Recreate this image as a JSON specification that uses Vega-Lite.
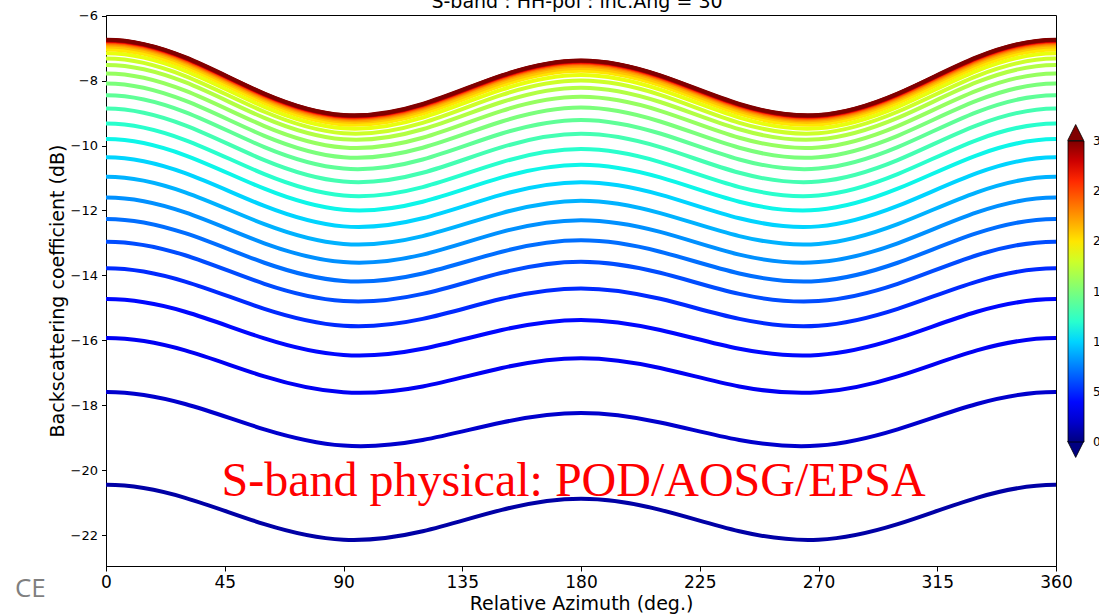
{
  "$schema": "https://vega.github.io/schema/vega-lite/v6.json",
  "width": 950,
  "height": 551,
  "autosize": {"type": "none"},
  "padding": {"left": 106, "top": 15, "right": 43, "bottom": 49},
  "background": "white",
  "title": {"text": "S-band : HH-pol : inc.Ang = 30", "fontSize": 19, "font": "DejaVu Sans", "fontWeight": "normal", "color": "black", "anchor": "middle", "frame": "group", "offset": 0, "dy": 17.5, "dx": -4, "baseline": "alphabetic"},
  "config": {
    "view": {"stroke": "black", "strokeWidth": 1},
    "axis": {"grid": false, "domainColor": "black", "tickColor": "black", "labelColor": "black", "titleColor": "black", "labelFont": "DejaVu Sans", "titleFont": "DejaVu Sans", "titleFontWeight": "normal", "labelFlush": false, "labelOverlap": false, "tickWidth": 1},
    "axisX": {"labelFontSize": 17, "titleFontSize": 19, "tickSize": 5, "labelPadding": 3, "titlePadding": 4},
    "axisY": {"labelFontSize": 13, "titleFontSize": 19, "tickSize": 4.5, "labelPadding": 4, "titlePadding": 3}
  },
  "layer": [
    {
      "data": {"values": [
        {"u":1,"az":-60,"db":-21.66},{"u":1,"az":-30,"db":-20.85},{"u":1,"az":0,"db":-20.45},{"u":1,"az":30,"db":-20.85},{"u":1,"az":60,"db":-21.66},{"u":1,"az":90,"db":-22.14},{"u":1,"az":120,"db":-21.88},{"u":1,"az":150,"db":-21.22},{"u":1,"az":180,"db":-20.88},{"u":1,"az":210,"db":-21.22},{"u":1,"az":240,"db":-21.88},{"u":1,"az":270,"db":-22.14},{"u":1,"az":300,"db":-21.66},{"u":1,"az":330,"db":-20.85},{"u":1,"az":360,"db":-20.45},{"u":1,"az":390,"db":-20.85},{"u":1,"az":420,"db":-21.66},
        {"u":2,"az":-60,"db":-18.74},{"u":2,"az":-30,"db":-17.96},{"u":2,"az":0,"db":-17.59},{"u":2,"az":30,"db":-17.96},{"u":2,"az":60,"db":-18.74},{"u":2,"az":90,"db":-19.24},{"u":2,"az":120,"db":-19.07},{"u":2,"az":150,"db":-18.53},{"u":2,"az":180,"db":-18.24},{"u":2,"az":210,"db":-18.53},{"u":2,"az":240,"db":-19.07},{"u":2,"az":270,"db":-19.24},{"u":2,"az":300,"db":-18.74},{"u":2,"az":330,"db":-17.96},{"u":2,"az":360,"db":-17.59},{"u":2,"az":390,"db":-17.96},{"u":2,"az":420,"db":-18.74},
        {"u":3,"az":-60,"db":-17.11},{"u":3,"az":-30,"db":-16.31},{"u":3,"az":0,"db":-15.93},{"u":3,"az":30,"db":-16.31},{"u":3,"az":60,"db":-17.11},{"u":3,"az":90,"db":-17.60},{"u":3,"az":120,"db":-17.42},{"u":3,"az":150,"db":-16.85},{"u":3,"az":180,"db":-16.55},{"u":3,"az":210,"db":-16.85},{"u":3,"az":240,"db":-17.42},{"u":3,"az":270,"db":-17.60},{"u":3,"az":300,"db":-17.11},{"u":3,"az":330,"db":-16.31},{"u":3,"az":360,"db":-15.93},{"u":3,"az":390,"db":-16.31},{"u":3,"az":420,"db":-17.11},
        {"u":4,"az":-60,"db":-15.94},{"u":4,"az":-30,"db":-15.12},{"u":4,"az":0,"db":-14.73},{"u":4,"az":30,"db":-15.12},{"u":4,"az":60,"db":-15.94},{"u":4,"az":90,"db":-16.45},{"u":4,"az":120,"db":-16.26},{"u":4,"az":150,"db":-15.68},{"u":4,"az":180,"db":-15.37},{"u":4,"az":210,"db":-15.68},{"u":4,"az":240,"db":-16.26},{"u":4,"az":270,"db":-16.45},{"u":4,"az":300,"db":-15.94},{"u":4,"az":330,"db":-15.12},{"u":4,"az":360,"db":-14.73},{"u":4,"az":390,"db":-15.12},{"u":4,"az":420,"db":-15.94},
        {"u":5,"az":-60,"db":-15.03},{"u":5,"az":-30,"db":-14.19},{"u":5,"az":0,"db":-13.78},{"u":5,"az":30,"db":-14.19},{"u":5,"az":60,"db":-15.03},{"u":5,"az":90,"db":-15.55},{"u":5,"az":120,"db":-15.34},{"u":5,"az":150,"db":-14.72},{"u":5,"az":180,"db":-14.40},{"u":5,"az":210,"db":-14.72},{"u":5,"az":240,"db":-15.34},{"u":5,"az":270,"db":-15.55},{"u":5,"az":300,"db":-15.03},{"u":5,"az":330,"db":-14.19},{"u":5,"az":360,"db":-13.78},{"u":5,"az":390,"db":-14.19},{"u":5,"az":420,"db":-15.03},
        {"u":6,"az":-60,"db":-14.26},{"u":6,"az":-30,"db":-13.38},{"u":6,"az":0,"db":-12.96},{"u":6,"az":30,"db":-13.38},{"u":6,"az":60,"db":-14.26},{"u":6,"az":90,"db":-14.79},{"u":6,"az":120,"db":-14.57},{"u":6,"az":150,"db":-13.92},{"u":6,"az":180,"db":-13.58},{"u":6,"az":210,"db":-13.92},{"u":6,"az":240,"db":-14.57},{"u":6,"az":270,"db":-14.79},{"u":6,"az":300,"db":-14.26},{"u":6,"az":330,"db":-13.38},{"u":6,"az":360,"db":-12.96},{"u":6,"az":390,"db":-13.38},{"u":6,"az":420,"db":-14.26},
        {"u":7,"az":-60,"db":-13.61},{"u":7,"az":-30,"db":-12.70},{"u":7,"az":0,"db":-12.26},{"u":7,"az":30,"db":-12.70},{"u":7,"az":60,"db":-13.61},{"u":7,"az":90,"db":-14.17},{"u":7,"az":120,"db":-13.94},{"u":7,"az":150,"db":-13.27},{"u":7,"az":180,"db":-12.92},{"u":7,"az":210,"db":-13.27},{"u":7,"az":240,"db":-13.94},{"u":7,"az":270,"db":-14.17},{"u":7,"az":300,"db":-13.61},{"u":7,"az":330,"db":-12.70},{"u":7,"az":360,"db":-12.26},{"u":7,"az":390,"db":-12.70},{"u":7,"az":420,"db":-13.61},
        {"u":8,"az":-60,"db":-13.01},{"u":8,"az":-30,"db":-12.06},{"u":8,"az":0,"db":-11.60},{"u":8,"az":30,"db":-12.06},{"u":8,"az":60,"db":-13.01},{"u":8,"az":90,"db":-13.59},{"u":8,"az":120,"db":-13.36},{"u":8,"az":150,"db":-12.66},{"u":8,"az":180,"db":-12.30},{"u":8,"az":210,"db":-12.66},{"u":8,"az":240,"db":-13.36},{"u":8,"az":270,"db":-13.59},{"u":8,"az":300,"db":-13.01},{"u":8,"az":330,"db":-12.06},{"u":8,"az":360,"db":-11.60},{"u":8,"az":390,"db":-12.06},{"u":8,"az":420,"db":-13.01},
        {"u":9,"az":-60,"db":-12.42},{"u":9,"az":-30,"db":-11.44},{"u":9,"az":0,"db":-10.96},{"u":9,"az":30,"db":-11.44},{"u":9,"az":60,"db":-12.42},{"u":9,"az":90,"db":-13.03},{"u":9,"az":120,"db":-12.79},{"u":9,"az":150,"db":-12.08},{"u":9,"az":180,"db":-11.70},{"u":9,"az":210,"db":-12.08},{"u":9,"az":240,"db":-12.79},{"u":9,"az":270,"db":-13.03},{"u":9,"az":300,"db":-12.42},{"u":9,"az":330,"db":-11.44},{"u":9,"az":360,"db":-10.96},{"u":9,"az":390,"db":-11.44},{"u":9,"az":420,"db":-12.42},
        {"u":10,"az":-60,"db":-11.86},{"u":10,"az":-30,"db":-10.85},{"u":10,"az":0,"db":-10.36},{"u":10,"az":30,"db":-10.85},{"u":10,"az":60,"db":-11.86},{"u":10,"az":90,"db":-12.49},{"u":10,"az":120,"db":-12.24},{"u":10,"az":150,"db":-11.51},{"u":10,"az":180,"db":-11.13},{"u":10,"az":210,"db":-11.51},{"u":10,"az":240,"db":-12.24},{"u":10,"az":270,"db":-12.49},{"u":10,"az":300,"db":-11.86},{"u":10,"az":330,"db":-10.85},{"u":10,"az":360,"db":-10.36},{"u":10,"az":390,"db":-10.85},{"u":10,"az":420,"db":-11.86},
        {"u":11,"az":-60,"db":-11.33},{"u":11,"az":-30,"db":-10.30},{"u":11,"az":0,"db":-9.80},{"u":11,"az":30,"db":-10.30},{"u":11,"az":60,"db":-11.33},{"u":11,"az":90,"db":-11.98},{"u":11,"az":120,"db":-11.73},{"u":11,"az":150,"db":-10.98},{"u":11,"az":180,"db":-10.59},{"u":11,"az":210,"db":-10.98},{"u":11,"az":240,"db":-11.73},{"u":11,"az":270,"db":-11.98},{"u":11,"az":300,"db":-11.33},{"u":11,"az":330,"db":-10.30},{"u":11,"az":360,"db":-9.80},{"u":11,"az":390,"db":-10.30},{"u":11,"az":420,"db":-11.33},
        {"u":12,"az":-60,"db":-10.88},{"u":12,"az":-30,"db":-9.83},{"u":12,"az":0,"db":-9.32},{"u":12,"az":30,"db":-9.83},{"u":12,"az":60,"db":-10.88},{"u":12,"az":90,"db":-11.54},{"u":12,"az":120,"db":-11.28},{"u":12,"az":150,"db":-10.51},{"u":12,"az":180,"db":-10.11},{"u":12,"az":210,"db":-10.51},{"u":12,"az":240,"db":-11.28},{"u":12,"az":270,"db":-11.54},{"u":12,"az":300,"db":-10.88},{"u":12,"az":330,"db":-9.83},{"u":12,"az":360,"db":-9.32},{"u":12,"az":390,"db":-9.83},{"u":12,"az":420,"db":-10.88},
        {"u":13,"az":-60,"db":-10.45},{"u":13,"az":-30,"db":-9.38},{"u":13,"az":0,"db":-8.86},{"u":13,"az":30,"db":-9.38},{"u":13,"az":60,"db":-10.45},{"u":13,"az":90,"db":-11.11},{"u":13,"az":120,"db":-10.84},{"u":13,"az":150,"db":-10.05},{"u":13,"az":180,"db":-9.64},{"u":13,"az":210,"db":-10.05},{"u":13,"az":240,"db":-10.84},{"u":13,"az":270,"db":-11.11},{"u":13,"az":300,"db":-10.45},{"u":13,"az":330,"db":-9.38},{"u":13,"az":360,"db":-8.86},{"u":13,"az":390,"db":-9.38},{"u":13,"az":420,"db":-10.45},
        {"u":14,"az":-60,"db":-10.05},{"u":14,"az":-30,"db":-8.97},{"u":14,"az":0,"db":-8.45},{"u":14,"az":30,"db":-8.97},{"u":14,"az":60,"db":-10.05},{"u":14,"az":90,"db":-10.71},{"u":14,"az":120,"db":-10.43},{"u":14,"az":150,"db":-9.63},{"u":14,"az":180,"db":-9.21},{"u":14,"az":210,"db":-9.63},{"u":14,"az":240,"db":-10.43},{"u":14,"az":270,"db":-10.71},{"u":14,"az":300,"db":-10.05},{"u":14,"az":330,"db":-8.97},{"u":14,"az":360,"db":-8.45},{"u":14,"az":390,"db":-8.97},{"u":14,"az":420,"db":-10.05},
        {"u":15,"az":-60,"db":-9.70},{"u":15,"az":-30,"db":-8.62},{"u":15,"az":0,"db":-8.09},{"u":15,"az":30,"db":-8.62},{"u":15,"az":60,"db":-9.70},{"u":15,"az":90,"db":-10.36},{"u":15,"az":120,"db":-10.07},{"u":15,"az":150,"db":-9.26},{"u":15,"az":180,"db":-8.83},{"u":15,"az":210,"db":-9.26},{"u":15,"az":240,"db":-10.07},{"u":15,"az":270,"db":-10.36},{"u":15,"az":300,"db":-9.70},{"u":15,"az":330,"db":-8.62},{"u":15,"az":360,"db":-8.09},{"u":15,"az":390,"db":-8.62},{"u":15,"az":420,"db":-9.70},
        {"u":16,"az":-60,"db":-9.40},{"u":16,"az":-30,"db":-8.31},{"u":16,"az":0,"db":-7.78},{"u":16,"az":30,"db":-8.31},{"u":16,"az":60,"db":-9.40},{"u":16,"az":90,"db":-10.06},{"u":16,"az":120,"db":-9.76},{"u":16,"az":150,"db":-8.93},{"u":16,"az":180,"db":-8.50},{"u":16,"az":210,"db":-8.93},{"u":16,"az":240,"db":-9.76},{"u":16,"az":270,"db":-10.06},{"u":16,"az":300,"db":-9.40},{"u":16,"az":330,"db":-8.31},{"u":16,"az":360,"db":-7.78},{"u":16,"az":390,"db":-8.31},{"u":16,"az":420,"db":-9.40},
        {"u":17,"az":-60,"db":-9.15},{"u":17,"az":-30,"db":-8.05},{"u":17,"az":0,"db":-7.52},{"u":17,"az":30,"db":-8.05},{"u":17,"az":60,"db":-9.15},{"u":17,"az":90,"db":-9.81},{"u":17,"az":120,"db":-9.50},{"u":17,"az":150,"db":-8.66},{"u":17,"az":180,"db":-8.22},{"u":17,"az":210,"db":-8.66},{"u":17,"az":240,"db":-9.50},{"u":17,"az":270,"db":-9.81},{"u":17,"az":300,"db":-9.15},{"u":17,"az":330,"db":-8.05},{"u":17,"az":360,"db":-7.52},{"u":17,"az":390,"db":-8.05},{"u":17,"az":420,"db":-9.15},
        {"u":18,"az":-60,"db":-8.96},{"u":18,"az":-30,"db":-7.86},{"u":18,"az":0,"db":-7.32},{"u":18,"az":30,"db":-7.86},{"u":18,"az":60,"db":-8.96},{"u":18,"az":90,"db":-9.62},{"u":18,"az":120,"db":-9.30},{"u":18,"az":150,"db":-8.44},{"u":18,"az":180,"db":-8.00},{"u":18,"az":210,"db":-8.44},{"u":18,"az":240,"db":-9.30},{"u":18,"az":270,"db":-9.62},{"u":18,"az":300,"db":-8.96},{"u":18,"az":330,"db":-7.86},{"u":18,"az":360,"db":-7.32},{"u":18,"az":390,"db":-7.86},{"u":18,"az":420,"db":-8.96},
        {"u":19,"az":-60,"db":-8.81},{"u":19,"az":-30,"db":-7.70},{"u":19,"az":0,"db":-7.16},{"u":19,"az":30,"db":-7.70},{"u":19,"az":60,"db":-8.81},{"u":19,"az":90,"db":-9.47},{"u":19,"az":120,"db":-9.14},{"u":19,"az":150,"db":-8.28},{"u":19,"az":180,"db":-7.83},{"u":19,"az":210,"db":-8.28},{"u":19,"az":240,"db":-9.14},{"u":19,"az":270,"db":-9.47},{"u":19,"az":300,"db":-8.81},{"u":19,"az":330,"db":-7.70},{"u":19,"az":360,"db":-7.16},{"u":19,"az":390,"db":-7.70},{"u":19,"az":420,"db":-8.81},
        {"u":20,"az":-60,"db":-8.69},{"u":20,"az":-30,"db":-7.58},{"u":20,"az":0,"db":-7.04},{"u":20,"az":30,"db":-7.58},{"u":20,"az":60,"db":-8.69},{"u":20,"az":90,"db":-9.35},{"u":20,"az":120,"db":-9.02},{"u":20,"az":150,"db":-8.15},{"u":20,"az":180,"db":-7.70},{"u":20,"az":210,"db":-8.15},{"u":20,"az":240,"db":-9.02},{"u":20,"az":270,"db":-9.35},{"u":20,"az":300,"db":-8.69},{"u":20,"az":330,"db":-7.58},{"u":20,"az":360,"db":-7.04},{"u":20,"az":390,"db":-7.58},{"u":20,"az":420,"db":-8.69},
        {"u":21,"az":-60,"db":-8.60},{"u":21,"az":-30,"db":-7.49},{"u":21,"az":0,"db":-6.95},{"u":21,"az":30,"db":-7.49},{"u":21,"az":60,"db":-8.60},{"u":21,"az":90,"db":-9.26},{"u":21,"az":120,"db":-8.93},{"u":21,"az":150,"db":-8.06},{"u":21,"az":180,"db":-7.61},{"u":21,"az":210,"db":-8.06},{"u":21,"az":240,"db":-8.93},{"u":21,"az":270,"db":-9.26},{"u":21,"az":300,"db":-8.60},{"u":21,"az":330,"db":-7.49},{"u":21,"az":360,"db":-6.95},{"u":21,"az":390,"db":-7.49},{"u":21,"az":420,"db":-8.60},
        {"u":22,"az":-60,"db":-8.55},{"u":22,"az":-30,"db":-7.43},{"u":22,"az":0,"db":-6.89},{"u":22,"az":30,"db":-7.43},{"u":22,"az":60,"db":-8.55},{"u":22,"az":90,"db":-9.21},{"u":22,"az":120,"db":-8.87},{"u":22,"az":150,"db":-7.99},{"u":22,"az":180,"db":-7.54},{"u":22,"az":210,"db":-7.99},{"u":22,"az":240,"db":-8.87},{"u":22,"az":270,"db":-9.21},{"u":22,"az":300,"db":-8.55},{"u":22,"az":330,"db":-7.43},{"u":22,"az":360,"db":-6.89},{"u":22,"az":390,"db":-7.43},{"u":22,"az":420,"db":-8.55},
        {"u":23,"az":-60,"db":-8.51},{"u":23,"az":-30,"db":-7.39},{"u":23,"az":0,"db":-6.85},{"u":23,"az":30,"db":-7.39},{"u":23,"az":60,"db":-8.51},{"u":23,"az":90,"db":-9.17},{"u":23,"az":120,"db":-8.83},{"u":23,"az":150,"db":-7.95},{"u":23,"az":180,"db":-7.50},{"u":23,"az":210,"db":-7.95},{"u":23,"az":240,"db":-8.83},{"u":23,"az":270,"db":-9.17},{"u":23,"az":300,"db":-8.51},{"u":23,"az":330,"db":-7.39},{"u":23,"az":360,"db":-6.85},{"u":23,"az":390,"db":-7.39},{"u":23,"az":420,"db":-8.51},
        {"u":24,"az":-60,"db":-8.48},{"u":24,"az":-30,"db":-7.36},{"u":24,"az":0,"db":-6.82},{"u":24,"az":30,"db":-7.36},{"u":24,"az":60,"db":-8.48},{"u":24,"az":90,"db":-9.14},{"u":24,"az":120,"db":-8.80},{"u":24,"az":150,"db":-7.92},{"u":24,"az":180,"db":-7.46},{"u":24,"az":210,"db":-7.92},{"u":24,"az":240,"db":-8.80},{"u":24,"az":270,"db":-9.14},{"u":24,"az":300,"db":-8.48},{"u":24,"az":330,"db":-7.36},{"u":24,"az":360,"db":-6.82},{"u":24,"az":390,"db":-7.36},{"u":24,"az":420,"db":-8.48},
        {"u":25,"az":-60,"db":-8.46},{"u":25,"az":-30,"db":-7.34},{"u":25,"az":0,"db":-6.80},{"u":25,"az":30,"db":-7.34},{"u":25,"az":60,"db":-8.46},{"u":25,"az":90,"db":-9.12},{"u":25,"az":120,"db":-8.78},{"u":25,"az":150,"db":-7.90},{"u":25,"az":180,"db":-7.44},{"u":25,"az":210,"db":-7.90},{"u":25,"az":240,"db":-8.78},{"u":25,"az":270,"db":-9.12},{"u":25,"az":300,"db":-8.46},{"u":25,"az":330,"db":-7.34},{"u":25,"az":360,"db":-6.80},{"u":25,"az":390,"db":-7.34},{"u":25,"az":420,"db":-8.46},
        {"u":26,"az":-60,"db":-8.44},{"u":26,"az":-30,"db":-7.32},{"u":26,"az":0,"db":-6.78},{"u":26,"az":30,"db":-7.32},{"u":26,"az":60,"db":-8.44},{"u":26,"az":90,"db":-9.10},{"u":26,"az":120,"db":-8.76},{"u":26,"az":150,"db":-7.88},{"u":26,"az":180,"db":-7.42},{"u":26,"az":210,"db":-7.88},{"u":26,"az":240,"db":-8.76},{"u":26,"az":270,"db":-9.10},{"u":26,"az":300,"db":-8.44},{"u":26,"az":330,"db":-7.32},{"u":26,"az":360,"db":-6.78},{"u":26,"az":390,"db":-7.32},{"u":26,"az":420,"db":-8.44},
        {"u":27,"az":-60,"db":-8.43},{"u":27,"az":-30,"db":-7.31},{"u":27,"az":0,"db":-6.77},{"u":27,"az":30,"db":-7.31},{"u":27,"az":60,"db":-8.43},{"u":27,"az":90,"db":-9.09},{"u":27,"az":120,"db":-8.75},{"u":27,"az":150,"db":-7.87},{"u":27,"az":180,"db":-7.41},{"u":27,"az":210,"db":-7.87},{"u":27,"az":240,"db":-8.75},{"u":27,"az":270,"db":-9.09},{"u":27,"az":300,"db":-8.43},{"u":27,"az":330,"db":-7.31},{"u":27,"az":360,"db":-6.77},{"u":27,"az":390,"db":-7.31},{"u":27,"az":420,"db":-8.43},
        {"u":28,"az":-60,"db":-8.42},{"u":28,"az":-30,"db":-7.30},{"u":28,"az":0,"db":-6.76},{"u":28,"az":30,"db":-7.30},{"u":28,"az":60,"db":-8.42},{"u":28,"az":90,"db":-9.08},{"u":28,"az":120,"db":-8.74},{"u":28,"az":150,"db":-7.86},{"u":28,"az":180,"db":-7.40},{"u":28,"az":210,"db":-7.86},{"u":28,"az":240,"db":-8.74},{"u":28,"az":270,"db":-9.08},{"u":28,"az":300,"db":-8.42},{"u":28,"az":330,"db":-7.30},{"u":28,"az":360,"db":-6.76},{"u":28,"az":390,"db":-7.30},{"u":28,"az":420,"db":-8.42},
        {"u":29,"az":-60,"db":-8.41},{"u":29,"az":-30,"db":-7.29},{"u":29,"az":0,"db":-6.75},{"u":29,"az":30,"db":-7.29},{"u":29,"az":60,"db":-8.41},{"u":29,"az":90,"db":-9.07},{"u":29,"az":120,"db":-8.73},{"u":29,"az":150,"db":-7.85},{"u":29,"az":180,"db":-7.39},{"u":29,"az":210,"db":-7.85},{"u":29,"az":240,"db":-8.73},{"u":29,"az":270,"db":-9.07},{"u":29,"az":300,"db":-8.41},{"u":29,"az":330,"db":-7.29},{"u":29,"az":360,"db":-6.75},{"u":29,"az":390,"db":-7.29},{"u":29,"az":420,"db":-8.41},
        {"u":30,"az":-60,"db":-8.40},{"u":30,"az":-30,"db":-7.28},{"u":30,"az":0,"db":-6.74},{"u":30,"az":30,"db":-7.28},{"u":30,"az":60,"db":-8.40},{"u":30,"az":90,"db":-9.06},{"u":30,"az":120,"db":-8.72},{"u":30,"az":150,"db":-7.84},{"u":30,"az":180,"db":-7.38},{"u":30,"az":210,"db":-7.84},{"u":30,"az":240,"db":-8.72},{"u":30,"az":270,"db":-9.06},{"u":30,"az":300,"db":-8.40},{"u":30,"az":330,"db":-7.28},{"u":30,"az":360,"db":-6.74},{"u":30,"az":390,"db":-7.28},{"u":30,"az":420,"db":-8.40}
      ]},
      "mark": {"type": "line", "interpolate": "natural", "strokeWidth": 4, "clip": true},
      "encoding": {
        "x": {"field": "az", "type": "quantitative", "scale": {"domain": [0, 360], "nice": false, "zero": false}, "axis": {"values": [0, 45, 90, 135, 180, 225, 270, 315, 360], "title": "Relative Azimuth (deg.)"}},
        "y": {"field": "db", "type": "quantitative", "scale": {"domain": [-22.95, -5.98], "nice": false, "zero": false}, "axis": {"values": [-22, -20, -18, -16, -14, -12, -10, -8, -6], "title": "Backscattering coefficient (dB)"}},
        "color": {"field": "u", "type": "quantitative",
          "scale": {"domain": [0, 3.3, 3.75, 10.2, 10.5, 11.25, 19.2, 19.5, 19.8, 26.7, 27.3, 30], "range": ["#000080", "#0000ff", "#0000ff", "#00dbff", "#00e5f7", "#14ffe2", "#eeff08", "#f7f500", "#ffec00", "#ff1300", "#e80000", "#800000"], "interpolate": "rgb"},
          "legend": {"orient": "none", "legendX": 962, "legendY": 126, "direction": "vertical", "gradientLength": 301, "gradientThickness": 16, "values": [0, 5, 10, 15, 20, 25, 30], "title": null, "labelFontSize": 12, "labelFont": "DejaVu Sans", "labelColor": "black", "labelOffset": 9, "labelBaseline": "middle", "gradientStrokeColor": "black", "gradientStrokeWidth": 0.8, "padding": 0, "labelOverlap": false,
            "encoding": {"labels": {"baseline": {"value": "middle"}}}}}
      }
    },
    {
      "data": {"values": [{"end": "max"}]},
      "mark": {"type": "point", "shape": "M-1,1L0,-1L1,1Z", "size": 256, "filled": true, "fill": "#800000", "stroke": "black", "strokeWidth": 0.8, "opacity": 1, "clip": false},
      "encoding": {"x": {"datum": 367.46}, "y": {"datum": -9.6}}
    },
    {
      "data": {"values": [{"end": "min"}]},
      "mark": {"type": "point", "shape": "M-1,-1L0,1L1,-1Z", "size": 256, "filled": true, "fill": "#000080", "stroke": "black", "strokeWidth": 0.8, "opacity": 1, "clip": false},
      "encoding": {"x": {"datum": 367.46}, "y": {"datum": -19.36}}
    },
    {
      "data": {"values": [{"label": "S-band physical: POD/AOSG/EPSA"}]},
      "mark": {"type": "text", "font": "Liberation Serif", "fontSize": 48, "color": "red", "align": "center", "baseline": "alphabetic"},
      "encoding": {"x": {"datum": 177.2}, "y": {"datum": -20.8}, "text": {"field": "label"}}
    },
    {
      "data": {"values": [{"label": "CE"}]},
      "mark": {"type": "text", "font": "Open Sans", "fontSize": 26, "color": "#7f7f7f", "align": "left", "baseline": "alphabetic"},
      "encoding": {"x": {"datum": -34.5}, "y": {"datum": -23.89}, "text": {"field": "label"}}
    }
  ]
}
